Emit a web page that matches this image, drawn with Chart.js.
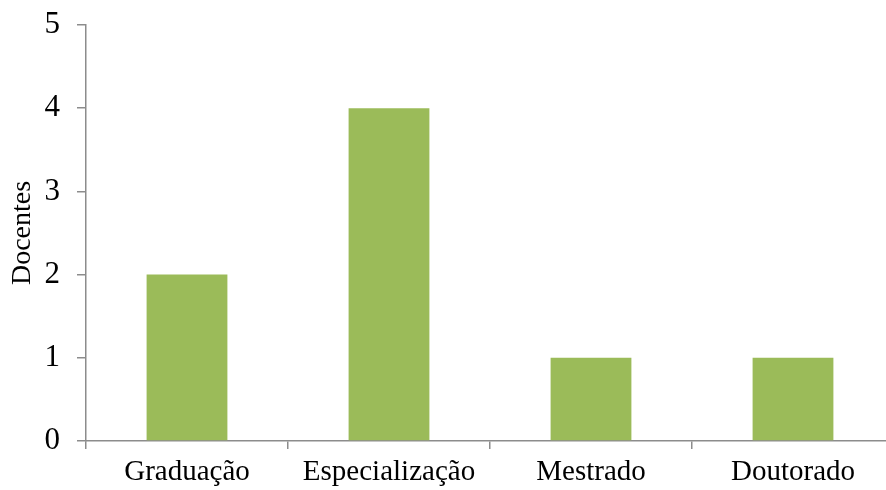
<!DOCTYPE html>
<html>
<head>
<meta charset="utf-8">
<script src="https://cdn.jsdelivr.net/npm/chart.js@4"></script>
<style>
  html, body { margin: 0; padding: 0; background: #fff; overflow: hidden; }
  #wrap { width: 894px; height: 490px; }
</style>
</head>
<body>
<div id="wrap"><canvas id="chart"></canvas></div>
<script>
"use strict";

const categories = ["Graduação", "Especialização", "Mestrado", "Doutorado"];
const docentes = [2, 4, 1, 1];
const yTicks = [0, 1, 2, 3, 4, 5];

const axisColor = "#8c8c8c";
const serif = "'Liberation Serif', 'Times New Roman', serif";

new Chart(document.getElementById("chart"), {
  type: "bar",
  data: {
    labels: categories,
    datasets: [{
      label: "Docentes",
      data: docentes,
      backgroundColor: "#9bbb59",
      borderWidth: 0,
      categoryPercentage: 1,
      barPercentage: 0.4,
    }]
  },
  options: {
    responsive: true,
    maintainAspectRatio: false,
    animation: false,
    layout: { padding: { top: 25, right: 0, bottom: 0, left: 0 } },
    plugins: { legend: { display: false }, tooltip: { enabled: false } },
    scales: {
      x: {
        afterFit: (s) => { s.height = 49; s.paddingLeft = 0; s.paddingRight = 0; },
        grid: { display: true, drawOnChartArea: false, offset: true, tickLength: 8, color: axisColor, lineWidth: 1.5 },
        border: { color: axisColor, width: 1.5 },
        ticks: { color: "#000", font: { family: serif, size: 29 }, padding: 6, maxRotation: 0 },
      },
      y: {
        min: yTicks[0],
        max: yTicks[yTicks.length - 1],
        afterBuildTicks: (s) => { s.ticks = yTicks.map((v) => ({ value: v })); },
        afterFit: (s) => { s.width = 86; s.paddingTop = 0; s.paddingBottom = 0; },
        grid: { display: true, drawOnChartArea: false, tickLength: 9, color: axisColor, lineWidth: 1.5 },
        border: { color: axisColor, width: 1.5 },
        ticks: { color: "#000", font: { family: serif, size: 31 }, padding: 17 },
        title: { display: true, text: "Docentes", color: "#000", font: { family: serif, size: 28 }, padding: { top: 6, bottom: 0 } },
      }
    }
  }
});
</script>
</body>
</html>
